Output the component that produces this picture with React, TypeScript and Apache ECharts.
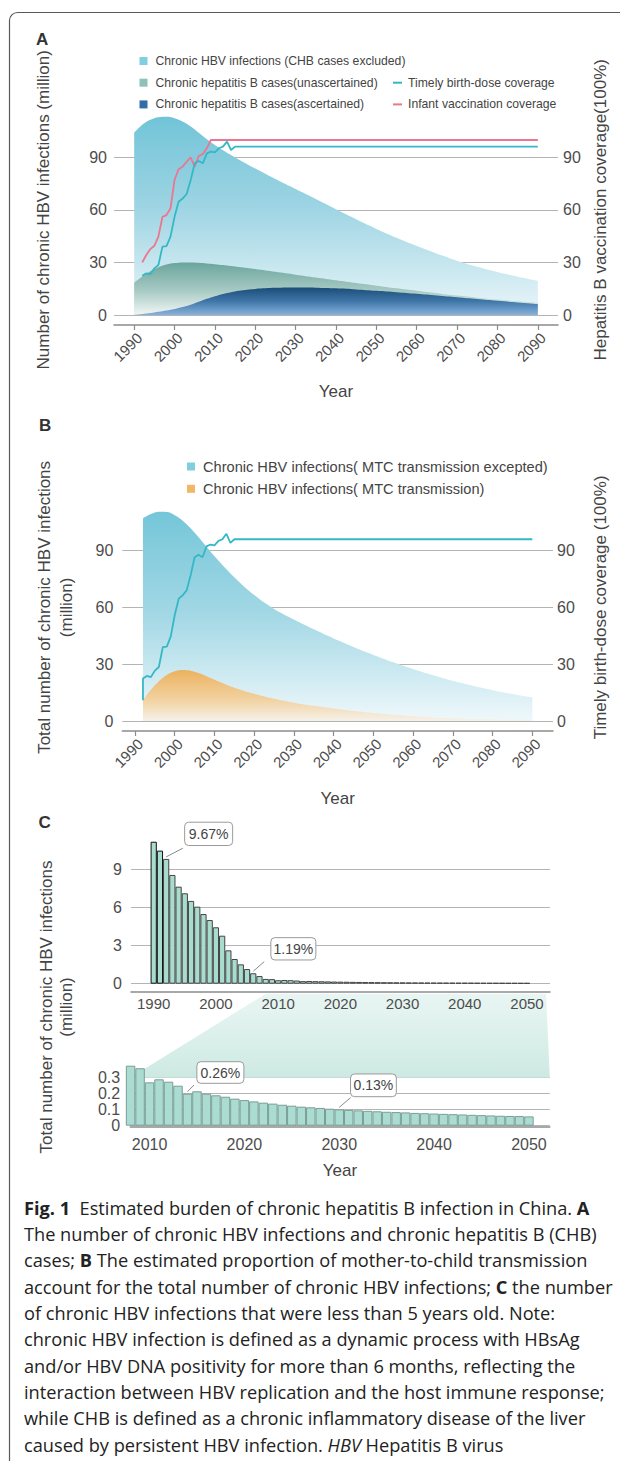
import React, { useEffect, useRef } from "react";
import * as echarts from "echarts";

// ---------------- data ----------------
const yearTicksA = [1990, 2000, 2010, 2020, 2030, 2040, 2050, 2060, 2070, 2080, 2090];
const yearTicksC = [1990, 2000, 2010, 2020, 2030, 2040, 2050];
const yearTicksCZoom = [2010, 2020, 2030, 2040, 2050];

// Panel A (million people; coverage in %)
const areaYearsA = [1990, 1992, 1994, 1996, 1998, 2000, 2002, 2004, 2006, 2008, 2010, 2012, 2014, 2016, 2018, 2020, 2025, 2030, 2035, 2040, 2045, 2050, 2055, 2060, 2065, 2070, 2075, 2080, 2085, 2090];
const infectionsA = [104, 108.5, 111.3, 112.8, 113, 112.2, 110.3, 107.5, 104, 100.3, 97, 94, 91.2, 88.5, 86, 83.5, 77.5, 71.8, 66.1, 60.3, 54.6, 49.1, 44, 39.3, 35, 31, 27.5, 24.5, 21.8, 19.5];
const unascertainedA = [18.5, 22, 25, 27.3, 28.8, 29.6, 30, 30, 29.8, 29.4, 29, 28.5, 28, 27.4, 26.8, 26.2, 24.6, 23, 21.4, 19.8, 18.2, 16.7, 15.2, 13.8, 12.4, 11.1, 9.9, 8.8, 7.8, 6.9];
const ascertainedA = [0, 0.5, 1.1, 1.8, 2.5, 3.4, 4.5, 5.8, 7.5, 9.2, 10.7, 12, 13, 13.8, 14.4, 14.9, 15.5, 15.7, 15.6, 15.2, 14.6, 13.8, 13, 12.1, 11.1, 10.1, 9.1, 8.1, 7.2, 6.3];

const timelyYears = [1992, 1993, 1994, 1995, 1996, 1997, 1998, 1999, 2000, 2001, 2002, 2003, 2004, 2005, 2006, 2007, 2008, 2009, 2010, 2011, 2012, 2013, 2014, 2015, 2090];
const timelyBirthDose = [22.4, 23.8, 23.2, 26.6, 28.5, 39, 39.3, 44.7, 56, 64.6, 66.4, 69, 77, 86.5, 87.8, 86.5, 92.2, 93.2, 92.8, 95.1, 96, 98.9, 94.1, 96, 96];
const infantYears = [1992, 1993, 1994, 1995, 1996, 1997, 1998, 1999, 2000, 2001, 2002, 2003, 2004, 2005, 2006, 2007, 2008, 2009, 2090];
const infantVaccination = [30, 34.2, 37.6, 39.5, 44.7, 56, 57, 60.8, 77, 83.1, 84.6, 87.4, 89.9, 84.6, 90.7, 91.8, 95.1, 99.8, 99.8];

// Panel B
const areaYearsB = [1992, 1994, 1996, 1998, 2000, 2002, 2004, 2006, 2008, 2010, 2015, 2020, 2025, 2030, 2035, 2040, 2045, 2050, 2055, 2060, 2065, 2070, 2075, 2080, 2085, 2090];
const infectionsExceptMTC = [107, 109.3, 110.5, 110.4, 108.7, 105.8, 101.8, 97, 92, 87, 75.9, 66.5, 59.2, 53.6, 48.4, 43.6, 39.1, 34.9, 31, 27.5, 24.2, 21.2, 18.6, 16.3, 14.3, 12.5];
const infectionsMTC = [11, 16.5, 21, 24.3, 26.3, 27, 26.6, 25.3, 23.6, 21.8, 17.6, 14.4, 11.8, 9.7, 8, 6.6, 5.3, 4.2, 3.3, 2.5, 1.9, 1.4, 1.0, 0.8, 0.6, 0.5];
const birthDoseStartB = 11;

// Panel C
const barYears = [1990, 1991, 1992, 1993, 1994, 1995, 1996, 1997, 1998, 1999, 2000, 2001, 2002, 2003, 2004, 2005, 2006, 2007, 2008, 2009, 2010, 2011, 2012, 2013, 2014, 2015, 2016, 2017, 2018, 2019, 2020, 2021, 2022, 2023, 2024, 2025, 2026, 2027, 2028, 2029, 2030, 2031, 2032, 2033, 2034, 2035, 2036, 2037, 2038, 2039, 2040, 2041, 2042, 2043, 2044, 2045, 2046, 2047, 2048, 2049, 2050];
const under5 = [
  11.15, 10.45, 9.8, 8.54, 7.62, 7.1, 6.5, 6.05, 5.47, 5.0,
  4.43, 3.77, 2.62, 1.94, 1.52, 1.15, 0.82, 0.6, 0.375, 0.359,
  0.271, 0.29, 0.275, 0.25, 0.2, 0.215, 0.2, 0.19, 0.181, 0.169,
  0.16, 0.152, 0.144, 0.138, 0.131, 0.125, 0.119, 0.115, 0.111, 0.106,
  0.102, 0.099, 0.096, 0.093, 0.09, 0.087, 0.085, 0.083, 0.08, 0.078,
  0.076, 0.074, 0.072, 0.07, 0.068, 0.066, 0.064, 0.062, 0.061, 0.06,
  0.058,
];
const zoomStartYear = 2008;
const annotationYears = [1992, 2006, 2014, 2030];
const annotationTexts = ["9.67%", "1.19%", "0.26%", "0.13%"];

const captionLines = [
  "{b|Fig. 1}  Estimated burden of chronic hepatitis B infection in China. {b|A}",
  "The number of chronic HBV infections and chronic hepatitis B (CHB)",
  "cases; {b|B} The estimated proportion of mother-to-child transmission",
  "account for the total number of chronic HBV infections; {b|C} the number",
  "of chronic HBV infections that were less than 5 years old. Note:",
  "chronic HBV infection is defined as a dynamic process with HBsAg",
  "and/or HBV DNA positivity for more than 6 months, reflecting the",
  "interaction between HBV replication and the host immune response;",
  "while CHB is defined as a chronic inflammatory disease of the liver",
  "caused by persistent HBV infection. {i|HBV} Hepatitis B virus",
];

// ---------------- helpers ----------------
const SANS = "'Liberation Sans', Arial, Helvetica, sans-serif";
const CAPTION_FONT = "'Open Sans', 'Noto Sans', sans-serif";
const CAPTION_SIZE = 18.2;
const pairs = (xs: number[], ys: number[]) => xs.map((x, i) => [x, ys[i]]);
const vGrad = (stops: [number, string][]) =>
  new echarts.graphic.LinearGradient(0, 0, 0, 1, stops.map(([offset, color]) => ({ offset, color })));
const gridColors = ["#b4b4b4", "#b4b4b4", "#b4b4b4", "#b4b4b4", "rgba(0,0,0,0)"];
const plainNumber = (v: number) => String(v);

function hasFont(name: string) {
  try {
    const ctx = document.createElement("canvas").getContext("2d");
    if (!ctx) return false;
    const t = "Chronic HBV infections (CHB cases excluded)";
    ctx.font = "20px monospace";
    const a = ctx.measureText(t).width;
    ctx.font = `20px '${name}', monospace`;
    const b = ctx.measureText(t).width;
    return Math.abs(a - b) > 0.5;
  } catch (e) {
    return false;
  }
}

const tickLabel = (size = 16) => ({ color: "#4d4d4d", fontSize: size, fontFamily: SANS });
const titleStyle = { color: "#444", fontSize: 17, fontFamily: SANS };

function buildOption(narrow: boolean) {
  const legendFamily = narrow ? "'Liberation Sans Narrow', 'Arial Narrow', sans-serif" : SANS;
  const legendSizeA = narrow ? 14.8 : 12.2;
  const legendSizeB = narrow ? 17.6 : 14.6;

  const areaCommon = {
    type: "line",
    smooth: 0.4,
    symbol: "none",
    showSymbol: false,
    lineStyle: { width: 0 },
    silent: true,
    emphasis: { disabled: true },
  };

  const rotatedLabels = (ticks: number[]) => ({
    customValues: ticks,
    formatter: plainNumber,
    rotate: 45,
    margin: 5,
    verticalAlign: "top",
    ...tickLabel(15),
  });

  const xAxisBase = (gridIndex: number, min: number, max: number, ticks: number[], offset: number) => ({
    gridIndex,
    type: "value",
    min,
    max,
    offset,
    axisLine: { show: true, onZero: false, lineStyle: { color: "#8c8c8c", width: 1.5 } },
    splitLine: { show: false },
    axisTick: { show: false, customValues: ticks },
    axisLabel: { customValues: ticks, formatter: plainNumber, ...tickLabel(15) },
  });

  const leftY = (gridIndex: number, max: number, interval: number, fmt: (v: number) => string, margin: number) => ({
    gridIndex,
    type: "value",
    min: 0,
    max,
    interval,
    axisLine: { show: false },
    axisTick: { show: false },
    splitLine: { show: true, lineStyle: { color: gridColors, width: 1.2 } },
    axisLabel: { formatter: fmt, margin, ...tickLabel(16) },
  });

  const hideMax = (v: number) => (v > 100 ? "" : String(v));

  return {
    animation: false,
    backgroundColor: "#ffffff",
    textStyle: { fontFamily: SANS },
    grid: [
      { left: 114, top: 104.6, width: 444, height: 210.4 },
      { left: 122.3, top: 493.8, width: 430.7, height: 227.2 },
      { left: 131, top: 830.9, width: 419, height: 152.8 },
      { left: 130.2, top: 1061.7, width: 419.6, height: 64 },
    ],
    legend: [
      {
        orient: "vertical",
        left: 134.5,
        top: 48.5,
        itemWidth: 8,
        itemHeight: 8,
        itemGap: 6.7,
        icon: "rect",
        selectedMode: false,
        data: [
          "Chronic HBV infections (CHB cases excluded)",
          "Chronic hepatitis B cases(unascertained)",
          "Chronic hepatitis B cases(ascertained)",
        ],
        textStyle: { fontFamily: legendFamily, fontSize: legendSizeA, lineHeight: 15, color: "#444", padding: [0, 0, 0, 3] },
      },
      {
        orient: "vertical",
        left: 388,
        top: 70.2,
        itemWidth: 9,
        itemHeight: 2,
        itemGap: 6.7,
        icon: "rect",
        selectedMode: false,
        data: ["Timely birth-dose coverage", "Infant vaccination coverage"],
        textStyle: { fontFamily: legendFamily, fontSize: legendSizeA, lineHeight: 15, color: "#444", padding: [0, 0, 0, 1] },
      },
      {
        orient: "vertical",
        left: 182,
        top: 453,
        itemWidth: 8,
        itemHeight: 8,
        itemGap: 5.3,
        icon: "rect",
        selectedMode: false,
        data: ["Chronic HBV infections( MTC transmission excepted)", "Chronic HBV infections( MTC transmission)"],
        textStyle: { fontFamily: legendFamily, fontSize: legendSizeB, lineHeight: 17, color: "#444", padding: [0, 0, 0, 3] },
      },
    ],
    xAxis: [
      {
        ...xAxisBase(0, 1985, 2095, yearTicksA, 10),
        axisTick: { show: true, customValues: yearTicksA, length: 5, lineStyle: { color: "#8c8c8c", width: 1.2 } },
        axisLabel: rotatedLabels(yearTicksA),
        name: "Year",
        nameLocation: "middle",
        nameGap: 58,
        nameTextStyle: titleStyle,
      },
      {
        ...xAxisBase(1, 1986.8, 2095.2, yearTicksA, 10),
        axisTick: { show: true, customValues: yearTicksA, length: 5, lineStyle: { color: "#8c8c8c", width: 1.2 } },
        axisLabel: rotatedLabels(yearTicksA),
        name: "Year",
        nameLocation: "middle",
        nameGap: 58.5,
        nameTextStyle: titleStyle,
      },
      {
        ...xAxisBase(2, 1986.35, 2053.7, yearTicksC, 8),
        axisLabel: { customValues: yearTicksC, formatter: plainNumber, margin: 4, ...tickLabel(15) },
      },
      {
        ...xAxisBase(3, 2007.96, 2052.2, yearTicksCZoom, 1),
        axisLabel: { customValues: yearTicksCZoom, formatter: plainNumber, margin: 10, ...tickLabel(16) },
        name: "Year",
        nameLocation: "middle",
        nameGap: 35.5,
        nameTextStyle: titleStyle,
      },
    ],
    yAxis: [
      {
        ...leftY(0, 120, 30, hideMax, 7),
        name: "Number of chronic HBV infections (million)",
        nameLocation: "middle",
        nameRotate: 90,
        nameGap: 62,
        nameTextStyle: titleStyle,
      },
      {
        gridIndex: 0,
        type: "value",
        position: "right",
        min: 0,
        max: 120,
        interval: 30,
        axisLine: { show: false },
        axisTick: { show: false },
        splitLine: { show: false },
        axisLabel: { formatter: hideMax, margin: 5, ...tickLabel(16) },
        name: "Hepatitis B vaccination coverage(100%)",
        nameLocation: "middle",
        nameRotate: 90,
        nameGap: 32,
        nameTextStyle: titleStyle,
      },
      {
        ...leftY(1, 120, 30, hideMax, 9),
        name: "Total number of chronic HBV infections\n(million)",
        nameLocation: "middle",
        nameRotate: 90,
        nameGap: 45,
        nameTextStyle: { ...titleStyle, lineHeight: 21.7 },
      },
      {
        gridIndex: 1,
        type: "value",
        position: "right",
        min: 0,
        max: 120,
        interval: 30,
        axisLine: { show: false },
        axisTick: { show: false },
        splitLine: { show: false },
        axisLabel: { formatter: hideMax, margin: 4, ...tickLabel(16) },
        name: "Timely birth-dose coverage (100%)",
        nameLocation: "middle",
        nameRotate: 90,
        nameGap: 38.5,
        nameTextStyle: titleStyle,
      },
      leftY(2, 12, 3, (v: number) => (v > 10 ? "" : String(v)), 9),
      leftY(3, 0.4, 0.1, (v: number) => (v > 0.35 ? "" : v === 0 ? "0" : v.toFixed(1)), 10),
    ],
    series: [
      {
        ...areaCommon,
        name: "Chronic HBV infections (CHB cases excluded)",
        xAxisIndex: 0,
        yAxisIndex: 0,
        data: pairs(areaYearsA, infectionsA),
        itemStyle: { color: "#7fcfe0" },
        areaStyle: { opacity: 1, color: vGrad([[0, "#72c4d8"], [0.45, "#9dd4e3"], [1, "#eaf6f9"]]) },
        z: 1,
      },
      {
        ...areaCommon,
        name: "Chronic hepatitis B cases(unascertained)",
        xAxisIndex: 0,
        yAxisIndex: 0,
        data: pairs(areaYearsA, unascertainedA),
        itemStyle: { color: "#8fc1b6" },
        areaStyle: { opacity: 1, color: vGrad([[0, "#6aa59c"], [0.55, "#a9cbc5"], [1, "#f1f6f5"]]) },
        z: 2,
      },
      {
        ...areaCommon,
        name: "Chronic hepatitis B cases(ascertained)",
        xAxisIndex: 0,
        yAxisIndex: 0,
        data: pairs(areaYearsA, ascertainedA),
        itemStyle: { color: "#2f6fa6" },
        areaStyle: { opacity: 1, color: vGrad([[0, "#1b4c78"], [0.5, "#3f76a8"], [1, "#88b2dc"]]) },
        z: 3,
      },
      {
        name: "Timely birth-dose coverage",
        type: "line",
        xAxisIndex: 0,
        yAxisIndex: 1,
        data: pairs(timelyYears, timelyBirthDose),
        symbol: "none",
        showSymbol: false,
        itemStyle: { color: "#35b8c6" },
        lineStyle: { color: "#35b8c6", width: 1.8 },
        silent: true,
        z: 5,
      },
      {
        name: "Infant vaccination coverage",
        type: "line",
        xAxisIndex: 0,
        yAxisIndex: 1,
        data: pairs(infantYears, infantVaccination),
        symbol: "none",
        showSymbol: false,
        itemStyle: { color: "#ec7590" },
        lineStyle: { color: "#ec7590", width: 1.8 },
        silent: true,
        z: 4,
      },
      {
        ...areaCommon,
        name: "Chronic HBV infections( MTC transmission excepted)",
        xAxisIndex: 1,
        yAxisIndex: 2,
        data: pairs(areaYearsB, infectionsExceptMTC),
        itemStyle: { color: "#7fcfe0" },
        areaStyle: { opacity: 1, color: vGrad([[0, "#74c6d9"], [0.5, "#a4d8e5"], [1, "#eff8fb"]]) },
        z: 1,
      },
      {
        ...areaCommon,
        name: "Chronic HBV infections( MTC transmission)",
        xAxisIndex: 1,
        yAxisIndex: 2,
        data: pairs(areaYearsB, infectionsMTC),
        itemStyle: { color: "#f0b764" },
        areaStyle: { opacity: 1, color: vGrad([[0, "#ecb25e"], [0.6, "#f2d3a3"], [1, "#f6f1ea"]]) },
        z: 2,
      },
      {
        name: "Timely birth-dose coverage, panel B",
        type: "line",
        xAxisIndex: 1,
        yAxisIndex: 3,
        data: [[timelyYears[0], birthDoseStartB], ...pairs(timelyYears, timelyBirthDose)],
        symbol: "none",
        showSymbol: false,
        lineStyle: { color: "#35b8c6", width: 1.8 },
        itemStyle: { color: "#35b8c6" },
        silent: true,
        z: 5,
      },
      {
        name: "Children under 5 with chronic HBV infection",
        type: "bar",
        xAxisIndex: 2,
        yAxisIndex: 4,
        barWidth: 6.22,
        data: barYears.map((y, i) => ({
          value: [y, under5[i]],
          itemStyle: i < 2 ? { borderColor: "#111" } : undefined,
        })),
        itemStyle: { color: "#a8dccf", borderColor: "#454545", borderWidth: 1 },
        silent: true,
        z: 3,
      },
      {
        name: "Children under 5 with chronic HBV infection (from 2008)",
        type: "bar",
        xAxisIndex: 3,
        yAxisIndex: 5,
        barWidth: 9.48,
        data: barYears.map((y, i) => [y, under5[i]]).filter((d) => d[0] >= zoomStartYear),
        itemStyle: { color: "#abdcd1", borderColor: "#7b9d96", borderWidth: 1 },
        silent: true,
        z: 3,
      },
    ],
  };
}

// annotation box layout (positions relative to the pointed bar top)
const annotationLayout = [
  { series: 8, lx: 16.7, ly: -10.7, bx: 18.5, by: -36.7, w: 48, h: 23.3 },
  { series: 8, lx: 11, ly: -11.6, bx: 17.6, by: -35.6, w: 45, h: 22.3 },
  { series: 9, lx: 6.5, ly: -8.7, bx: 9.4, by: -32, w: 47, h: 21.6 },
  { series: 9, lx: 11.3, ly: -11.7, bx: 11.3, by: -35.4, w: 45.8, h: 22.7 },
];

export default function App() {
  const ref = useRef<HTMLDivElement>(null);
  useEffect(() => {
    if (!ref.current) return;
    const chart = echarts.init(ref.current, null, { renderer: "svg" });
    const narrow = hasFont("Liberation Sans Narrow");
    chart.setOption(buildOption(narrow) as any);

    const elements: any[] = [];
    // frame
    elements.push({
      type: "rect",
      silent: true,
      shape: { x: 9.5, y: 12.5, width: 700, height: 1600, r: 8 },
      style: { fill: "none", stroke: "#5a5a5a", lineWidth: 1.2 },
    });
    // panel letters
    [["A", 36, 39], ["B", 39, 425], ["C", 38.5, 822]].forEach(([t, x, y]) => {
      elements.push({
        type: "text",
        x: x as number,
        y: y as number,
        silent: true,
        style: { text: t as string, fontSize: 17, fontWeight: "bold", fontFamily: SANS, fill: "#333", verticalAlign: "middle" },
      });
    });

    // zoom connector band between the two C panels
    const topLeft = chart.convertToPixel({ seriesIndex: 8 }, [zoomStartYear, 0]) as number[];
    const topRight = chart.convertToPixel({ seriesIndex: 8 }, [2053.7, 0]) as number[];
    const botLeft = chart.convertToPixel({ seriesIndex: 9 }, [2007.96, 0.3]) as number[];
    const botRight = chart.convertToPixel({ seriesIndex: 9 }, [2052.2, 0.3]) as number[];
    elements.push({
      type: "polygon",
      silent: true,
      z: 0,
      shape: {
        points: [
          [topLeft[0], topLeft[1] + 10],
          [topRight[0] - 4, topRight[1] + 10],
          [botRight[0], botRight[1]],
          [botLeft[0], botLeft[1]],
        ],
      },
      style: { fill: vGrad([[0, "rgba(214,238,233,0.55)"], [1, "#cde9e2"]]) },
    });

    // C-panel title spanning both plots
    elements.push({
      type: "text",
      x: 56,
      y: 1007,
      rotation: Math.PI / 2,
      silent: true,
      style: {
        text: "Total number of chronic HBV infections\n(million)",
        align: "center",
        verticalAlign: "middle",
        fontSize: 17,
        lineHeight: 20,
        fontFamily: SANS,
        fill: "#444",
      },
    });

    // annotations
    annotationYears.forEach((yr, i) => {
      const L = annotationLayout[i];
      const v = under5[barYears.indexOf(yr)];
      const [tx, ty] = chart.convertToPixel({ seriesIndex: L.series }, [yr, v]) as number[];
      elements.push({
        type: "line",
        silent: true,
        z: 10,
        shape: { x1: tx, y1: ty - 2, x2: tx + L.lx, y2: ty + L.ly },
        style: { stroke: "#8a8a8a", lineWidth: 1 },
      });
      elements.push({
        type: "rect",
        silent: true,
        z: 10,
        shape: { x: tx + L.bx, y: ty + L.by, width: L.w, height: L.h, r: 4 },
        style: { fill: "#fff", stroke: "#9a9a9a", lineWidth: 1 },
      });
      elements.push({
        type: "text",
        silent: true,
        z: 11,
        x: tx + L.bx + L.w / 2,
        y: ty + L.by + L.h / 2,
        style: {
          text: annotationTexts[i],
          align: "center",
          verticalAlign: "middle",
          fontSize: 14,
          fontFamily: SANS,
          fill: "#444",
        },
      });
    });

    // caption
    captionLines.forEach((line, i) => {
      elements.push({
        type: "text",
        silent: true,
        x: 24,
        y: 1207.5 + i * 26.35,
        style: {
          text: line,
          verticalAlign: "middle",
          fontSize: CAPTION_SIZE,
          fontFamily: CAPTION_FONT,
          fill: "#222",
          rich: {
            b: { fontSize: CAPTION_SIZE, fontFamily: CAPTION_FONT, fontWeight: "bold", fill: "#222" },
            i: { fontSize: CAPTION_SIZE, fontFamily: CAPTION_FONT, fontStyle: "italic", fill: "#222" },
          },
        },
      });
    });

    chart.setOption({ graphic: { elements } } as any);
    return () => chart.dispose();
  }, []);
  return (
    <div
      ref={ref}
      style={{ position: "absolute", left: 0, top: 0, width: 620, height: 1461, background: "#fff" }}
    />
  );
}
